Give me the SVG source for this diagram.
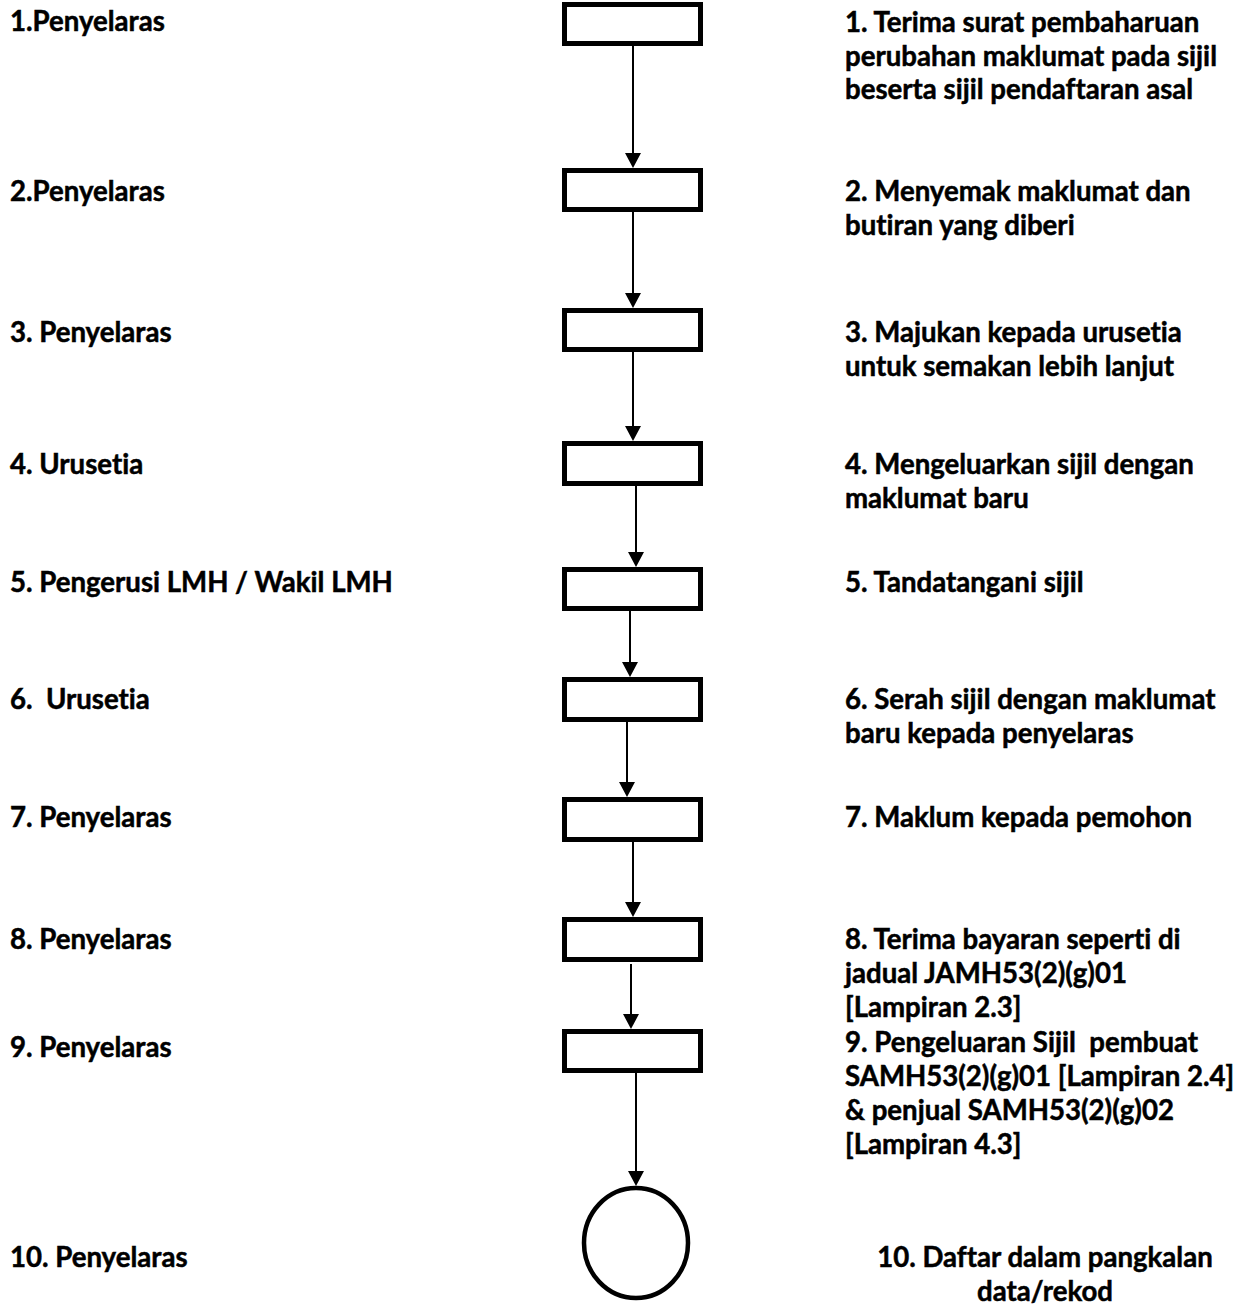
<svg xmlns="http://www.w3.org/2000/svg" width="1243" height="1310" viewBox="0 0 1243 1310">
<style>
text{font-family:Lato,"Liberation Sans",sans-serif;font-weight:bold;font-size:27.6px;fill:#000;stroke:#000;stroke-width:0.5;white-space:pre;font-variant-ligatures:none;font-feature-settings:"liga" 0}
.box{fill:#fff;stroke:#000;stroke-width:5}
.end{fill:#fff;stroke:#000;stroke-width:4.5}
.edge{stroke:#000;stroke-width:2;fill:none}
.mid{text-anchor:middle}
</style>
<g id="connectors">
<path class="edge" d="M633,46 V153"/><polygon points="625,153 641,153 633,168"/>
<path class="edge" d="M633,212 V293"/><polygon points="625,293 641,293 633,308"/>
<path class="edge" d="M633,352 V426"/><polygon points="625,426 641,426 633,441"/>
<path class="edge" d="M636,486 V552"/><polygon points="628,552 644,552 636,567"/>
<path class="edge" d="M630,611 V662"/><polygon points="622,662 638,662 630,677"/>
<path class="edge" d="M627,722 V782"/><polygon points="619,782 635,782 627,797"/>
<path class="edge" d="M633,842 V902"/><polygon points="625,902 641,902 633,917"/>
<path class="edge" d="M631,964 V1014"/><polygon points="623,1014 639,1014 631,1029"/>
<path class="edge" d="M636,1073 V1171"/><polygon points="628,1171 644,1171 636,1186"/>
</g>
<g id="n1"><rect class="box" x="564.5" y="4.5" width="136" height="39"/>
<text x="10" y="31">1.Penyelaras</text>
<text x="845" y="32">1. Terima surat pembaharuan</text><text x="845" y="65.5">perubahan maklumat pada sijil</text><text x="845" y="99">beserta sijil pendaftaran asal</text></g>
<g id="n2"><rect class="box" x="564.5" y="170.5" width="136" height="39"/>
<text x="10" y="201">2.Penyelaras</text>
<text x="845" y="201">2. Menyemak maklumat dan</text><text x="845" y="235">butiran yang diberi</text></g>
<g id="n3"><rect class="box" x="564.5" y="310.5" width="136" height="39"/>
<text x="10" y="342">3. Penyelaras</text>
<text x="845" y="342">3. Majukan kepada urusetia</text><text x="845" y="376">untuk semakan lebih lanjut</text></g>
<g id="n4"><rect class="box" x="564.5" y="443.5" width="136" height="40"/>
<text x="10" y="474">4. Urusetia</text>
<text x="845" y="474">4. Mengeluarkan sijil dengan</text><text x="845" y="508">maklumat baru</text></g>
<g id="n5"><rect class="box" x="564.5" y="569.5" width="136" height="39"/>
<text x="10" y="592">5. Pengerusi LMH / Wakil LMH</text>
<text x="845" y="592">5. Tandatangani sijil</text></g>
<g id="n6"><rect class="box" x="564.5" y="679.5" width="136" height="40"/>
<text x="10" y="709">6.  Urusetia</text>
<text x="845" y="709">6. Serah sijil dengan maklumat</text><text x="845" y="743">baru kepada penyelaras</text></g>
<g id="n7"><rect class="box" x="564.5" y="799.5" width="136" height="40"/>
<text x="10" y="827">7. Penyelaras</text>
<text x="845" y="827">7. Maklum kepada pemohon</text></g>
<g id="n8"><rect class="box" x="564.5" y="919.5" width="136" height="40"/>
<text x="10" y="949">8. Penyelaras</text>
<text x="845" y="949">8. Terima bayaran seperti di</text><text x="845" y="983">jadual JAMH53(2)(g)01</text><text x="845" y="1017">[Lampiran 2.3]</text></g>
<g id="n9"><rect class="box" x="564.5" y="1031.5" width="136" height="39"/>
<text x="10" y="1057">9. Penyelaras</text>
<text x="845" y="1052">9. Pengeluaran Sijil  pembuat</text><text x="845" y="1086">SAMH53(2)(g)01 [Lampiran 2.4]</text><text x="845" y="1120">&amp; penjual SAMH53(2)(g)02</text><text x="845" y="1154">[Lampiran 4.3]</text></g>
<g id="n10"><ellipse class="end" cx="636" cy="1243" rx="52" ry="55"/>
<text x="10" y="1267">10. Penyelaras</text>
<text class="mid" x="1045" y="1267">10. Daftar dalam pangkalan</text><text class="mid" x="1045" y="1301">data/rekod</text></g>
</svg>
